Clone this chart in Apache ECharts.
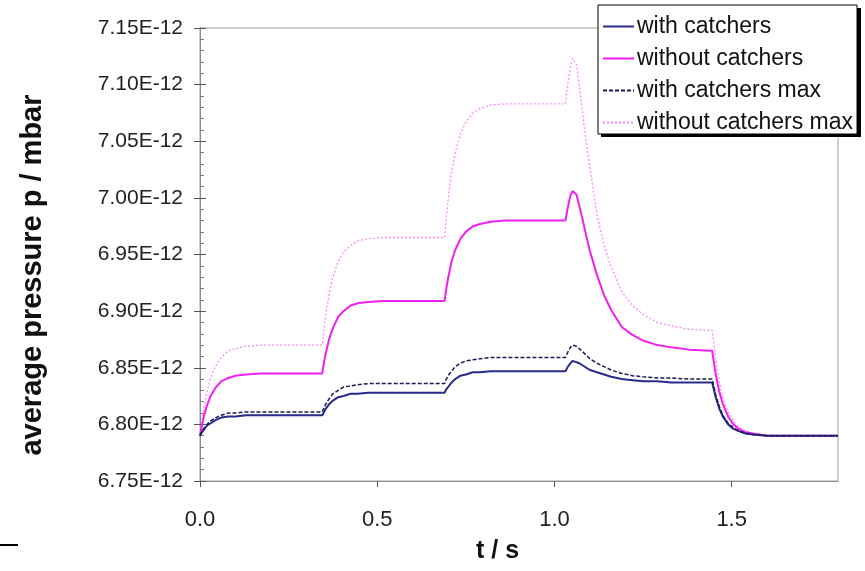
<!DOCTYPE html>
<html>
<head>
<meta charset="utf-8">
<script src="https://cdn.jsdelivr.net/npm/echarts@6/dist/echarts.min.js"></script>
<style>
html,body{margin:0;padding:0;background:#fff;}
#chart{width:865px;height:571px;}
</style>
</head>
<body>
<div id="chart"></div>
<script>
// time in seconds
const times = [
  0, 0.005, 0.01, 0.02, 0.03, 0.045, 0.06, 0.08, 0.1, 0.13, 0.17, 0.345,
  0.35, 0.355, 0.365, 0.375, 0.39, 0.405, 0.425, 0.445, 0.475, 0.515, 0.69,
  0.695, 0.70, 0.71, 0.72, 0.735, 0.75, 0.77, 0.79, 0.82, 0.86, 1.031,
  1.038, 1.045, 1.051, 1.055,
  1.062, 1.07, 1.08, 1.09, 1.10, 1.12, 1.14, 1.16, 1.19, 1.22, 1.25, 1.29, 1.33, 1.38, 1.445,
  1.455, 1.465, 1.475, 1.49, 1.505, 1.52, 1.54, 1.56, 1.6, 1.8
];
// pressure in units of 1E-12 mbar
const withCatchers = [
  6.790, 6.793, 6.795, 6.799, 6.801, 6.804, 6.806, 6.807, 6.807, 6.808, 6.808, 6.808,
  6.811, 6.814, 6.818, 6.821, 6.824, 6.825, 6.827, 6.827, 6.828, 6.828, 6.828,
  6.831, 6.833, 6.837, 6.840, 6.843, 6.844, 6.846, 6.846, 6.847, 6.847, 6.847,
  6.851, 6.854, 6.856, 6.856,
  6.855, 6.854, 6.852, 6.850, 6.848, 6.846, 6.844, 6.842, 6.840, 6.839, 6.838, 6.838, 6.837, 6.837, 6.837,
  6.824, 6.814, 6.807, 6.800, 6.796, 6.794, 6.792, 6.791, 6.790, 6.790
];
const withoutCatchers = [
  6.790, 6.798, 6.806, 6.817, 6.825, 6.833, 6.838, 6.841, 6.843, 6.844, 6.845, 6.845,
  6.855, 6.863, 6.876, 6.885, 6.895, 6.900, 6.905, 6.907, 6.908, 6.909, 6.909,
  6.920, 6.929, 6.944, 6.954, 6.964, 6.970, 6.975, 6.977, 6.979, 6.980, 6.980,
  6.992, 7.002, 7.006, 7.007,
  7.003, 6.993, 6.980, 6.966, 6.953, 6.932, 6.914, 6.901, 6.886, 6.879, 6.874, 6.870, 6.868, 6.866, 6.865,
  6.844, 6.829, 6.818, 6.807, 6.800, 6.796, 6.793, 6.792, 6.790, 6.790
];
const withCatchersMax = [
  6.790, 6.793, 6.796, 6.800, 6.803, 6.806, 6.808, 6.810, 6.810, 6.811, 6.811, 6.811,
  6.815, 6.818, 6.823, 6.827, 6.830, 6.833, 6.834, 6.835, 6.836, 6.836, 6.836,
  6.840, 6.843, 6.847, 6.851, 6.854, 6.856, 6.857, 6.858, 6.859, 6.859, 6.859,
  6.864, 6.868, 6.870, 6.870,
  6.869, 6.867, 6.864, 6.861, 6.858, 6.854, 6.851, 6.848, 6.845, 6.843, 6.842, 6.841, 6.841, 6.840, 6.840,
  6.826, 6.816, 6.808, 6.801, 6.797, 6.794, 6.792, 6.791, 6.790, 6.790
];
const withoutCatchersMax = [
  6.790, 6.802, 6.813, 6.829, 6.841, 6.852, 6.859, 6.865, 6.867, 6.869, 6.870, 6.870,
  6.885, 6.897, 6.916, 6.930, 6.944, 6.952, 6.958, 6.962, 6.964, 6.965, 6.965,
  6.983, 6.998, 7.023, 7.040, 7.057, 7.067, 7.075, 7.079, 7.082, 7.083, 7.083,
  7.101, 7.116, 7.123, 7.124,
  7.118, 7.100, 7.073, 7.048, 7.027, 6.985, 6.958, 6.939, 6.917, 6.905, 6.897, 6.890, 6.887, 6.884, 6.883,
  6.857, 6.838, 6.824, 6.811, 6.803, 6.798, 6.794, 6.792, 6.790, 6.790
];
const seriesNames = ['with catchers', 'without catchers', 'with catchers max', 'without catchers max'];
const yMin = 6.75, yMax = 7.15, yStep = 0.05;
const xMin = 0, xMax = 1.8, xStep = 0.5;

const pairs = arr => times.map((t, i) => [t, arr[i]]);

const chart = echarts.init(document.getElementById('chart'), null, {renderer: 'canvas'});
const axisGrey = '#8c8c8c';
const font = 'Liberation Sans, Arial, sans-serif';

chart.setOption({
  animation: false,
  backgroundColor: '#ffffff',
  grid: {left: 200, right: 27, top: 28, bottom: 90, show: true, borderColor: '#a0a0a0', borderWidth: 1},
  legend: {
    data: seriesNames,
    orient: 'vertical',
    left: 598, top: 5, z: 10,
    padding: [10, 4, 0, 4],
    itemWidth: 31, itemHeight: 12, itemGap: 9,
    itemStyle: {opacity: 0},
    backgroundColor: '#ffffff',
    borderColor: '#000000', borderWidth: 1,
    textStyle: {fontFamily: font, fontSize: 23, color: '#111', padding: [0, 0, 0, -2]},
    selectedMode: false
  },
  xAxis: {
    type: 'value', min: xMin, max: xMax, interval: xStep,
    name: 't / s', nameLocation: 'middle', nameGap: 58,
    nameTextStyle: {fontFamily: font, fontSize: 25, fontWeight: 'bold', color: '#111', padding: [0, 43, 0, 0]},
    axisLine: {lineStyle: {color: axisGrey, width: 1}},
    axisTick: {show: true, length: 6, lineStyle: {color: '#555'}},
    axisLabel: {fontFamily: font, fontSize: 22, color: '#222', margin: 28, showMaxLabel: false,
      formatter: v => v.toFixed(1)},
    splitLine: {show: false}
  },
  yAxis: [{
    type: 'value', min: yMin, max: yMax, interval: yStep,
    name: 'average pressure p / mbar', nameLocation: 'middle', nameGap: 153,
    nameTextStyle: {fontFamily: font, fontSize: 29, fontWeight: 'bold', color: '#111', padding: [0, 41, 0, 0]},
    axisLine: {show: true, lineStyle: {color: axisGrey, width: 1}},
    axisTick: {show: true, length: 6, lineStyle: {color: '#555'}},
    axisLabel: {fontFamily: font, fontSize: 21, color: '#222', margin: 17,
      formatter: v => v.toFixed(2) + 'E-12'},
    splitLine: {show: false}
  }, {
    type: 'value', min: yMin, max: yMax, interval: yStep, position: 'left',
    axisLine: {show: false},
    axisTick: {show: true, inside: true, length: 6, lineStyle: {color: '#555'}},
    minorTick: {show: true, splitNumber: 5, length: 4, lineStyle: {color: '#777'}},
    axisLabel: {show: false},
    splitLine: {show: false}
  }],
  series: [
    {name: seriesNames[0], type: 'line', data: pairs(withCatchers), symbol: 'none', z: 4,
      lineStyle: {color: '#2a2a8a', width: 2}, itemStyle: {color: '#2a2a8a'}},
    {name: seriesNames[1], type: 'line', data: pairs(withoutCatchers), symbol: 'none', z: 3,
      lineStyle: {color: '#f020f0', width: 2}, itemStyle: {color: '#f020f0'}},
    {name: seriesNames[2], type: 'line', data: pairs(withCatchersMax), symbol: 'none', z: 5,
      lineStyle: {color: '#1c1c55', width: 1.5, type: [4, 2]}, itemStyle: {color: '#1c1c55'}},
    {name: seriesNames[3], type: 'line', data: pairs(withoutCatchersMax), symbol: 'none', z: 2,
      lineStyle: {color: '#f58cf5', width: 1.3, type: [2, 2]}, itemStyle: {color: '#f58cf5'}}
  ],
  graphic: [{
    type: 'rect', z: 1, silent: true,
    shape: {x: 601, y: 8, width: 260, height: 129},
    style: {fill: '#000000'}
  }, {
    type: 'line', shape: {x1: 0, y1: 545, x2: 18, y2: 545},
    style: {stroke: '#000', lineWidth: 2}
  }]
});
</script>
</body>
</html>
